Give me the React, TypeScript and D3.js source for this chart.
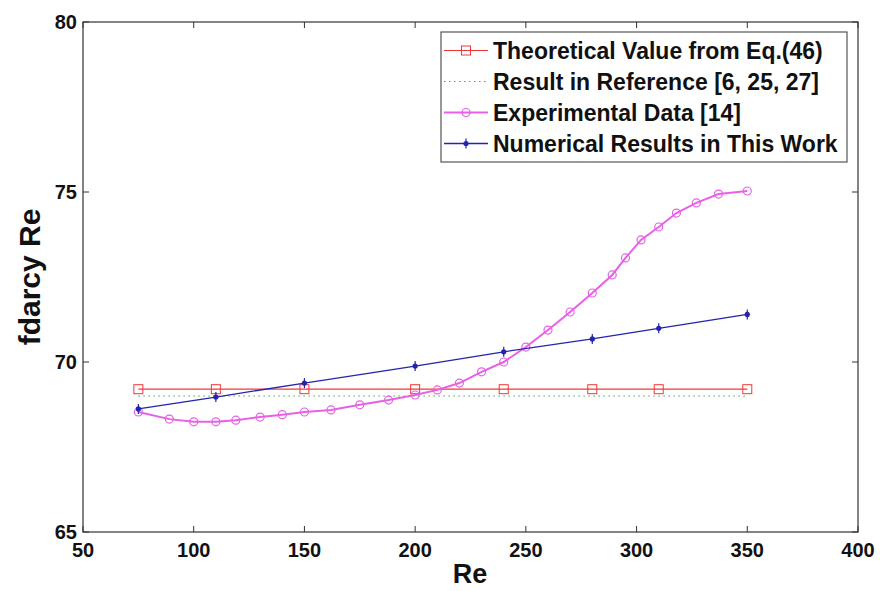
import React from "react";
import * as d3 from "d3";

// Reynolds numbers and fdarcy·Re values for each series
const theoryRe = [75, 110, 150, 200, 240, 280, 310, 350];
const theoryVal = [69.2, 69.2, 69.2, 69.2, 69.2, 69.2, 69.2, 69.2];

const refRe = [75, 350];
const refVal = [69.0, 69.0];

const expRe = [75, 89, 100, 110, 119, 130, 140, 150, 162, 175, 188, 200, 210, 220, 230, 240, 250, 260, 270, 280, 289, 295, 302, 310, 318, 327, 337, 350];
const expVal = [68.53, 68.32, 68.24, 68.24, 68.29, 68.38, 68.45, 68.53, 68.59, 68.74, 68.88, 69.03, 69.18, 69.38, 69.71, 70.0, 70.44, 70.94, 71.47, 72.03, 72.56, 73.06, 73.59, 73.97, 74.38, 74.68, 74.94, 75.03];

const numRe = [75, 110, 150, 200, 240, 280, 310, 350];
const numVal = [68.62, 68.97, 69.38, 69.88, 70.3, 70.68, 70.99, 71.4];

const xTicks = [50, 100, 150, 200, 250, 300, 350, 400];
const yTicks = [65, 70, 75, 80];

const legendLabels = [
  "Theoretical Value from Eq.(46)",
  "Result in Reference [6, 25, 27]",
  "Experimental Data [14]",
  "Numerical Results in This Work",
];

const W = 880;
const H = 591;
const left = 83;
const right = 858;
const top = 22;
const bottom = 532;

const RED = "#f03838";
const GREEN = "#4aa84a";
const MAGENTA = "#e860e8";
const BLUE = "#2424b0";
const FONT = "'Liberation Sans', Arial, sans-serif";

export default function App() {
  const x = d3.scaleLinear().domain([50, 400]).range([left, right]);
  const y = d3.scaleLinear().domain([65, 80]).range([bottom, top]);
  const line = d3
    .line<[number, number]>()
    .x((d) => x(d[0]))
    .y((d) => y(d[1]));

  const zip = (a: number[], b: number[]) => a.map((v, i) => [v, b[i]] as [number, number]);
  const theory = zip(theoryRe, theoryVal);
  const ref = zip(refRe, refVal);
  const exp = zip(expRe, expVal);
  const num = zip(numRe, numVal);

  const square = (cx: number, cy: number, k: string) => (
    <rect key={k} x={cx - 4.5} y={cy - 4.5} width={9} height={9} fill="none" stroke={RED} strokeWidth={1} />
  );
  const circle = (cx: number, cy: number, k: string) => (
    <circle key={k} cx={cx} cy={cy} r={4} fill="none" stroke={MAGENTA} strokeWidth={1.2} />
  );
  const plus = (cx: number, cy: number, k: string) => (
    <g key={k}>
      <line x1={cx} x2={cx} y1={cy - 5} y2={cy + 5} stroke={BLUE} strokeWidth={1.2} />
      <circle cx={cx} cy={cy} r={2.6} fill={BLUE} />
    </g>
  );

  const legX = 441;
  const legY = 32;
  const legW = 406;
  const legH = 130;
  const rowY = (i: number) => 50.5 + i * 31;
  const sx1 = 444;
  const sx2 = 488;
  const smid = (sx1 + sx2) / 2;

  return (
    <svg
      width={W}
      height={H}
      style={{ position: "absolute", left: 0, top: 0, background: "#fff" }}
      fontFamily={FONT}
    >
      <rect x={0} y={0} width={W} height={H} fill="#fff" />

      {/* data series */}
      <path d={line(ref) || ""} fill="none" stroke={GREEN} strokeWidth={1.2} strokeDasharray="1.5 3.5" />
      <path d={line(theory) || ""} fill="none" stroke={RED} strokeWidth={1.2} />
      {theory.map((d, i) => square(x(d[0]), y(d[1]), "t" + i))}
      <path d={line(exp) || ""} fill="none" stroke={MAGENTA} strokeWidth={2} />
      {exp.map((d, i) => circle(x(d[0]), y(d[1]), "e" + i))}
      <path d={line(num) || ""} fill="none" stroke={BLUE} strokeWidth={1.3} />
      {num.map((d, i) => plus(x(d[0]), y(d[1]), "n" + i))}

      {/* axes box and ticks */}
      <rect x={left} y={top} width={right - left} height={bottom - top} fill="none" stroke="#333" strokeWidth={1.2} />
      {xTicks.map((t) => (
        <g key={"xt" + t}>
          <line x1={x(t)} x2={x(t)} y1={bottom} y2={bottom - 6} stroke="#333" />
          <line x1={x(t)} x2={x(t)} y1={top} y2={top + 6} stroke="#333" />
          <text x={x(t)} y={557} textAnchor="middle" fontSize={20} fontWeight="bold" fill="#111">
            {t}
          </text>
        </g>
      ))}
      {yTicks.map((t) => (
        <g key={"yt" + t}>
          <line x1={left} x2={left + 6} y1={y(t)} y2={y(t)} stroke="#333" />
          <line x1={right} x2={right - 6} y1={y(t)} y2={y(t)} stroke="#333" />
          <text x={77} y={y(t) + 7} textAnchor="end" fontSize={20} fontWeight="bold" fill="#111">
            {t}
          </text>
        </g>
      ))}

      {/* axis titles */}
      <text x={470} y={583} textAnchor="middle" fontSize={27} fontWeight="bold" fill="#111">
        Re
      </text>
      <text
        transform={`translate(40, 277) rotate(-90)`}
        textAnchor="middle"
        fontSize={30}
        fontWeight="bold"
        fill="#111"
      >
        fdarcy Re
      </text>

      {/* legend */}
      <rect x={legX} y={legY} width={legW} height={legH} fill="#fff" stroke="#555" strokeWidth={1.2} />
      <line x1={sx1} x2={sx2} y1={rowY(0)} y2={rowY(0)} stroke={RED} strokeWidth={1.2} />
      {square(smid, rowY(0), "ls")}
      <line x1={sx1} x2={sx2} y1={rowY(1)} y2={rowY(1)} stroke={GREEN} strokeWidth={1.2} strokeDasharray="1.5 3.5" />
      <line x1={sx1} x2={sx2} y1={rowY(2)} y2={rowY(2)} stroke={MAGENTA} strokeWidth={2} />
      {circle(smid, rowY(2), "lc")}
      <line x1={sx1} x2={sx2} y1={rowY(3)} y2={rowY(3)} stroke={BLUE} strokeWidth={1.3} />
      {plus(smid, rowY(3), "lp")}
      {legendLabels.map((l, i) => (
        <text key={l} x={493} y={rowY(i) + 8} fontSize={23} fontWeight="bold" fill="#111">
          {l}
        </text>
      ))}
    </svg>
  );
}
